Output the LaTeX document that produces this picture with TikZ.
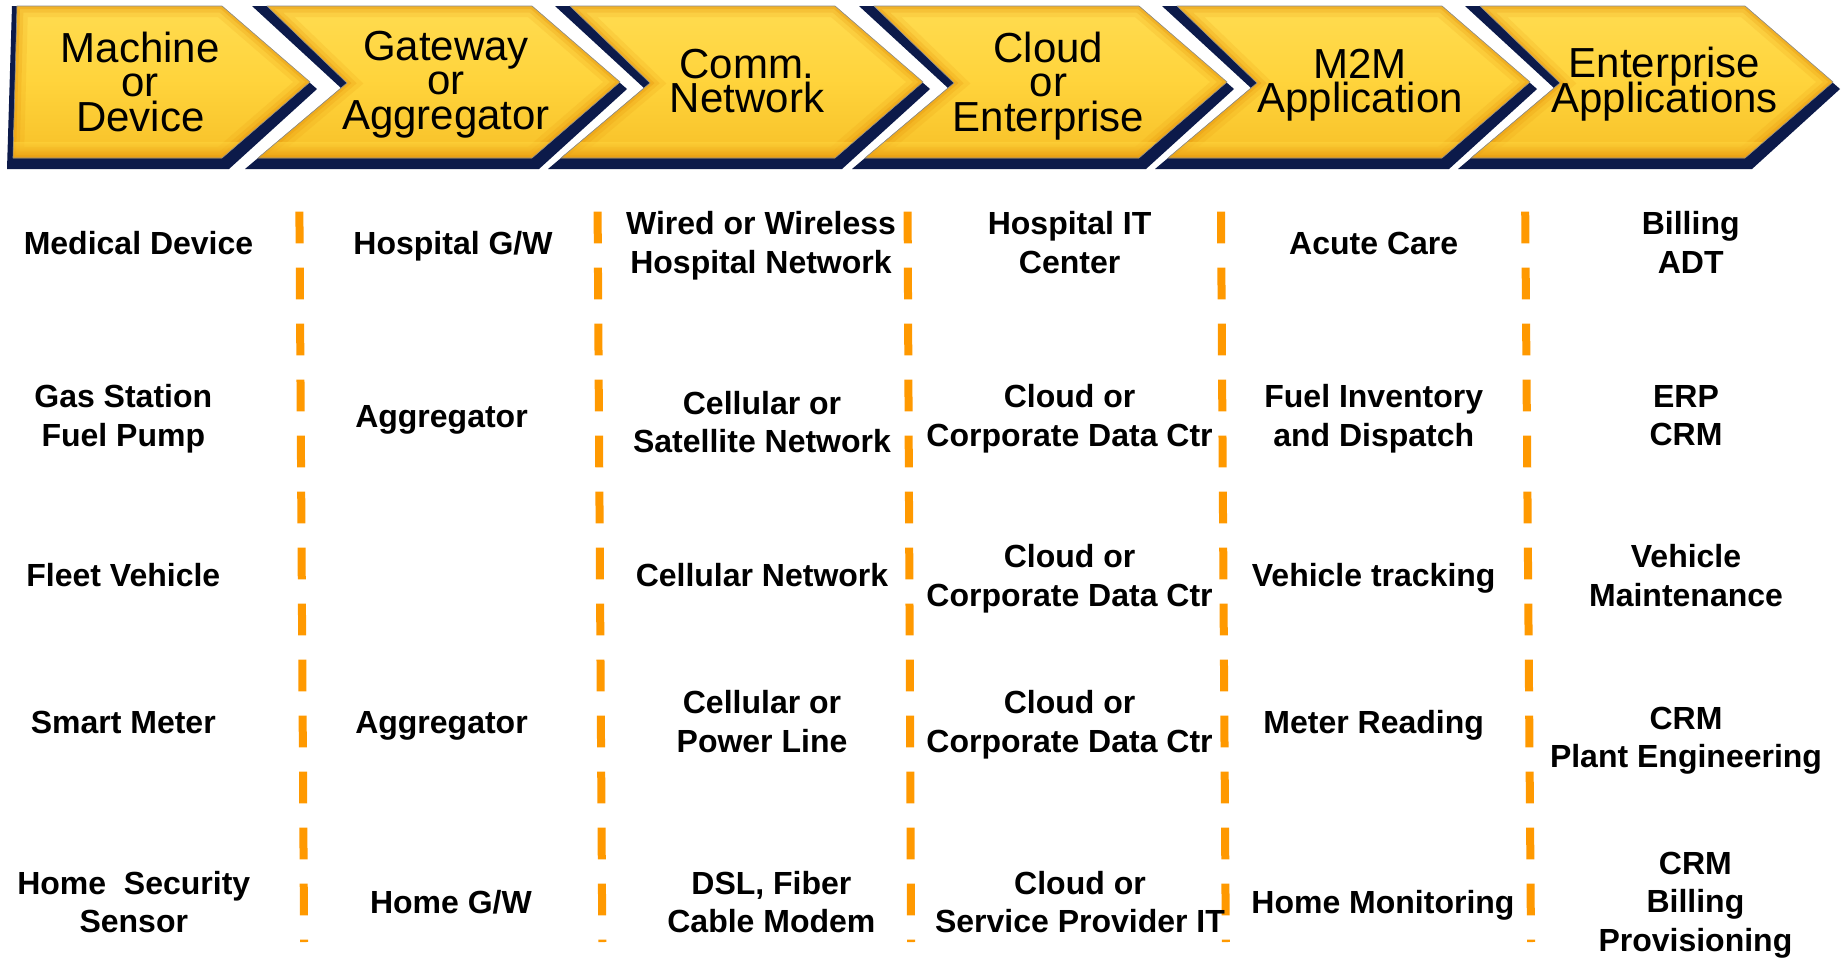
\documentclass[tikz,border=0pt]{standalone}
\usepackage{fontspec}
\setmainfont{Liberation Sans}
\definecolor{faceYellow}{HTML}{FFD43C}
\definecolor{faceLight}{HTML}{FFDC52}
\definecolor{faceDeep}{HTML}{F7C028}
\definecolor{bevelOrange}{HTML}{E8960C}
\definecolor{sideNavy}{HTML}{0C1A4A}
\definecolor{sepOrange}{HTML}{FF9900}

% outline of one notched chevron face, left top corner at x=#1
\newcommand\chevface[1]{(#1,6) -- (#1+265,6) -- (#1+353,82) -- (#1+265,158) -- (#1-9,158) -- (#1+80,83) -- cycle}
% dark side of the same chevron, showing below and along the notch
\newcommand\chevside[1]{(#1-15,6) -- (#1+265,6) -- (#1+360,89) -- (#1+272,169) -- (#1-22,169) -- (#1+74,88) -- cycle}
% first chevron, flat on the left
\newcommand\firstface{(17,6) -- (222,6) -- (310,82) -- (222,158) -- (13,158) -- cycle}
\newcommand\firstside{(12,6) -- (222,6) -- (317,89) -- (229,169) -- (7,169) -- cycle}

\tikzset{
  headtext/.style={font=\fontsize{42}{34.5}\selectfont,
    align=center, inner sep=0pt, text depth=0pt},
  celltext/.style={font=\bfseries\fontsize{32}{38.5}\selectfont,
    align=center, inner sep=0pt, text depth=0pt},
  separator/.style={sepOrange, line width=8pt, dash pattern=on 31.7pt off 24.3pt},
  bevelA/.style={bevelOrange, line width=22pt, opacity=.16},
  bevelB/.style={bevelOrange, line width=13pt, opacity=.22},
  bevelC/.style={bevelOrange, line width=6pt, opacity=.35},
  rim/.style={black!45, line width=0.6pt, line join=round},
}

\begin{document}
\setlength{\lineskiplimit}{-100pt}
\begin{tikzpicture}[x=1pt, y=-1pt]
\useasboundingbox (0,0) rectangle (1841,959);
\fill[white] (0,0) rectangle (1841,959);

% ---- header chevrons ----
\fill[sideNavy] \firstside;
\begin{scope}
  \clip \firstface;
  \shade[top color=faceLight, bottom color=faceDeep, middle color=faceYellow] (0,0) rectangle (330,160);
  \draw[bevelA] \firstface;
  \draw[bevelB] \firstface;
  \draw[bevelC] \firstface;
  \shade[top color=faceYellow, bottom color=bevelOrange, opacity=.55] (0,142) rectangle (330,158);
\end{scope}
\draw[rim] \firstface;

\foreach \L in {267,570,874,1177,1480}{
  \fill[sideNavy] \chevside{\L};
  \begin{scope}
    \clip \chevface{\L};
    \shade[top color=faceLight, bottom color=faceDeep, middle color=faceYellow] (\L-20,0) rectangle (\L+360,160);
    \draw[bevelA] \chevface{\L};
    \draw[bevelB] \chevface{\L};
    \draw[bevelC] \chevface{\L};
    \shade[top color=faceYellow, bottom color=bevelOrange, opacity=.55] (\L-20,142) rectangle (\L+360,158);
  \end{scope}
  \draw[rim] \chevface{\L};
}

% ---- header labels ----
\node[headtext] (h1) at (140.3,81.4) {Machine\\or\\Device};
\node[headtext] (h2) at (446,80) {Gateway\\or\\Aggregator};
\node[headtext] (h3) at (747,81) {Comm.\\Network};
\node[headtext] (h4) at (1048.5,81.4) {Cloud\\or\\Enterprise};
\node[headtext] (h5) at (1360,81) {M2M\\Application};
\node[headtext] (h6) at (1664.5,80) {Enterprise\\Applications};

% ---- column separators ----
\coordinate (s1t) at (299.4,211.7);  \coordinate (s1b) at (304.1,942);
\coordinate (s2t) at (597.6,211.7);  \coordinate (s2b) at (602.3,942);
\coordinate (s3t) at (907.6,211.7);  \coordinate (s3b) at (911.1,942);
\coordinate (s4t) at (1221,211.7);   \coordinate (s4b) at (1225.8,942);
\coordinate (s5t) at (1525.2,211.7); \coordinate (s5b) at (1531,942);
\foreach \s in {s1,s2,s3,s4,s5}{ \draw[separator] (\s t) -- (\s b); }

% ---- row 1 ----
\node[celltext] (r1c1) at (138.5,243) {Medical Device};
\node[celltext] (r1c2) at (453,243) {Hospital G/W};
\node[celltext] (r1c3) at (761,242.5) {Wired or Wireless\\Hospital Network};
\node[celltext] (r1c4) at (1069.6,242.5) {Hospital IT\\Center};
\node[celltext] (r1c5) at (1373.7,243) {Acute Care};
\node[celltext] (r1c6) at (1690.7,242.5) {Billing\\ADT};

% ---- row 2 ----
\node[celltext] (r2c1) at (123.3,415.6) {Gas Station\\Fuel Pump};
\node[celltext] (r2c2) at (441.5,416.8) {Aggregator};
\node[celltext] (r2c3) at (762,422) {Cellular or\\Satellite Network};
\node[celltext] (r2c4) at (1069.6,415.6) {Cloud or\\Corporate Data Ctr};
\node[celltext] (r2c5) at (1373.7,415.6) {Fuel Inventory\\and Dispatch};
\node[celltext] (r2c6) at (1686,415.6) {ERP\\CRM};

% ---- row 3 ----
\node[celltext] (r3c1) at (123.3,575.3) {Fleet Vehicle};
\node[celltext] (r3c3) at (762,575.3) {Cellular Network};
\node[celltext] (r3c4) at (1069.6,575.3) {Cloud or\\Corporate Data Ctr};
\node[celltext] (r3c5) at (1373.7,575.3) {Vehicle tracking};
\node[celltext] (r3c6) at (1686,575.3) {Vehicle\\Maintenance};

% ---- row 4 ----
\node[celltext] (r4c1) at (123.3,722) {Smart Meter};
\node[celltext] (r4c2) at (441.5,722) {Aggregator};
\node[celltext] (r4c3) at (762,721.5) {Cellular or\\Power Line};
\node[celltext] (r4c4) at (1069.6,721.5) {Cloud or\\Corporate Data Ctr};
\node[celltext] (r4c5) at (1373.7,722) {Meter Reading};
\node[celltext] (r4c6) at (1686,737.3) {CRM\\Plant Engineering};

% ---- row 5 ----
\node[celltext] (r5c1) at (133.8,901.7) {Home\ \ Security\\Sensor};
\node[celltext] (r5c2) at (450.9,901.7) {Home G/W};
\node[celltext] (r5c3) at (771.4,901.7) {DSL, Fiber\\Cable Modem};
\node[celltext] (r5c4) at (1080,901.7) {Cloud or\\Service Provider IT};
\node[celltext] (r5c5) at (1383,901.7) {Home Monitoring};
\node[celltext] (r5c6) at (1695.4,901.7) {CRM\\Billing\\Provisioning};
\end{tikzpicture}
\end{document}
